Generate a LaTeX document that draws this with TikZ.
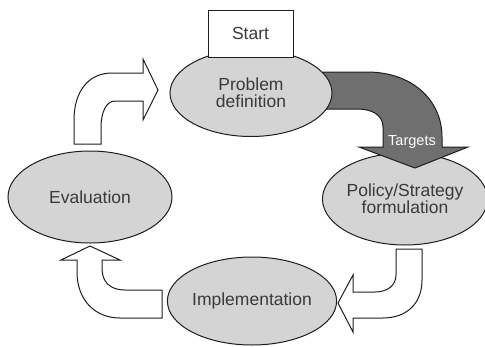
\documentclass[tikz,border=0pt]{standalone}
\usepackage{fontspec}
\setmainfont{Liberation Sans}
\usetikzlibrary{shapes.geometric}
\definecolor{ellfill}{HTML}{D4D4D4}
\definecolor{darkarrow}{HTML}{6F6F6F}
\definecolor{txt}{HTML}{3A3A3A}
\definecolor{edge}{HTML}{1E1E1E}
\tikzset{
  stage/.style={ellipse, draw=edge, line width=1pt, fill=ellfill, inner sep=0pt,
    align=center, text=txt, font=\fontsize{17.5}{17}\selectfont},
  hollow/.style={draw=edge, line width=1pt, fill=white, line join=miter},
  dark/.style={draw=edge, line width=1pt, fill=darkarrow, line join=miter},
  startbox/.style={rectangle, draw=edge, line width=1pt, fill=white, inner sep=0pt,
    text=txt, font=\fontsize{17.5}{17}\selectfont}
}
\begin{document}
\begin{tikzpicture}[x=1pt,y=-1pt]
\useasboundingbox (0,0) rectangle (485,346);
% hollow arrows
\draw[hollow] (74,144) -- (74,120) .. controls (74,92) and (88,73) .. (112,73) -- (143,73)
  -- (143,59) -- (158,90) -- (143,120) -- (143,101) -- (115,101)
  .. controls (106,101) and (101,113) .. (101,127) -- (101,144) -- cycle;
\draw[hollow] (61,260) -- (90,246) -- (120,260) -- (102,260) -- (102,268)
  .. controls (102,282) and (110,290) .. (125,290) -- (162,290) -- (162,318) -- (120,318)
  .. controls (95,318) and (77,300) .. (77,272) -- (77,260) -- cycle;
\draw[hollow] (396,249) -- (422,249) -- (422,280) .. controls (422,305) and (405,318) .. (383,318)
  -- (353,318) -- (353,332) -- (338,303) -- (353,275) -- (353,292) -- (375,292)
  .. controls (388,292) and (396,285) .. (396,275) -- cycle;
% stages
\node[stage, minimum width=152pt, minimum height=92pt] (policy) at (405,199)
  {Policy/Strategy\\formulation};
\draw[dark] (323,72) -- (367,72) .. controls (412,72) and (442,100) .. (442,137) -- (442,147)
  -- (468,147) -- (415,168) -- (359,147) -- (383,147) -- (383,127)
  .. controls (383,115) and (372,109) .. (357,109) -- (323,109) -- cycle;
\node[text=white, font=\fontsize{14.5}{15}\selectfont] (targets) at (412,142) {Targets};
\node[stage, minimum width=162pt, minimum height=87pt] (problem) at (251,93)
  {Problem\\definition};
\node[stage, minimum width=164pt, minimum height=92pt] (evaluation) at (90,197) {Evaluation};
\node[stage, minimum width=164pt, minimum height=88pt] (implementation) at (252,301) {Implementation};
\node[startbox, minimum width=85pt, minimum height=47pt] (start) at (250.5,33.5) {Start};
\end{tikzpicture}
\end{document}
